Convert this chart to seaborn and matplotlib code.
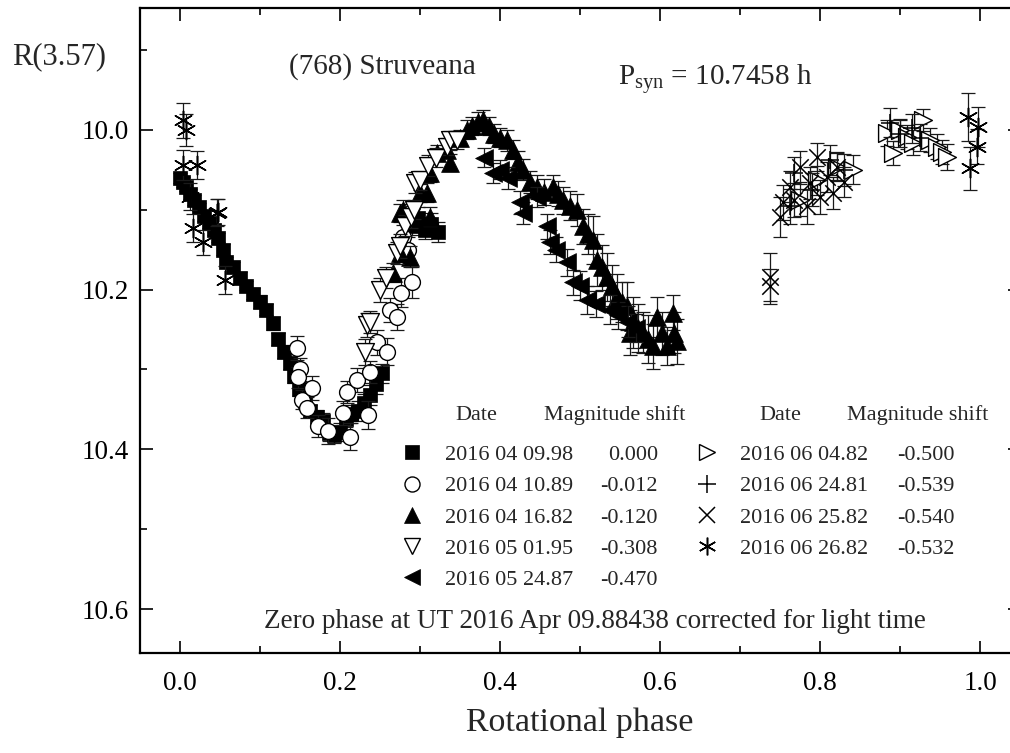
import matplotlib
matplotlib.use("Agg")
import numpy as np
import pandas as pd
import matplotlib.pyplot as plt
import seaborn as sns
from matplotlib.ticker import MultipleLocator, FormatStrFormatter

# --- data (phase, R magnitude, error) ---
dates = ["2016 04 09.98", "2016 04 10.89", "2016 04 16.82", "2016 05 01.95", "2016 05 24.87",
         "2016 06 04.82", "2016 06 24.81", "2016 06 25.82", "2016 06 26.82"]
shifts = ["0.000", "-0.012", "-0.120", "-0.308", "-0.470",
          "-0.500", "-0.539", "-0.540", "-0.532"]

sq_phase = [0.000, 0.004, 0.008, 0.013, 0.018, 0.024, 0.030, 0.036, 0.042, 0.048, 0.054, 0.058,
            0.066, 0.075, 0.083, 0.091, 0.100, 0.108, 0.116, 0.123, 0.130, 0.137, 0.143, 0.149,
            0.156, 0.163, 0.171, 0.179, 0.186, 0.193, 0.200, 0.207, 0.214, 0.222, 0.230, 0.237,
            0.245, 0.252, 0.290, 0.298, 0.306, 0.314, 0.322]
sq_mag = [10.060, 10.065, 10.072, 10.080, 10.088, 10.097, 10.108, 10.117, 10.125, 10.135, 10.150,
          10.165, 10.172, 10.185, 10.195, 10.205, 10.215, 10.225, 10.242, 10.262, 10.278, 10.292,
          10.308, 10.325, 10.340, 10.352, 10.360, 10.365, 10.380, 10.382, 10.378, 10.362, 10.356,
          10.352, 10.342, 10.332, 10.318, 10.305, 10.120, 10.110, 10.125, 10.118, 10.128]
sq_err = [0.006, 0.006, 0.005, 0.006, 0.006, 0.005, 0.006, 0.006, 0.007, 0.006, 0.007, 0.006,
          0.007, 0.007, 0.006, 0.007, 0.008, 0.007, 0.008, 0.007, 0.008, 0.008, 0.009, 0.008,
          0.009, 0.008, 0.009, 0.010, 0.009, 0.010, 0.011, 0.010, 0.011, 0.012, 0.011, 0.012,
          0.013, 0.012, 0.012, 0.013, 0.012, 0.014, 0.013]

ci_phase = [0.146, 0.150, 0.147, 0.153, 0.159, 0.165, 0.172, 0.185, 0.204, 0.209, 0.213, 0.221,
            0.235, 0.238, 0.246, 0.259, 0.263, 0.271, 0.276, 0.279, 0.285, 0.290]
ci_mag = [10.273, 10.300, 10.310, 10.338, 10.348, 10.323, 10.371, 10.377, 10.354, 10.328, 10.384,
          10.313, 10.357, 10.303, 10.266, 10.278, 10.225, 10.234, 10.204, 10.134, 10.150, 10.191]
ci_err = [0.015, 0.014, 0.013, 0.012, 0.013, 0.015, 0.014, 0.016, 0.015, 0.014, 0.017, 0.015,
          0.018, 0.014, 0.016, 0.017, 0.015, 0.016, 0.018, 0.015, 0.016, 0.019]

tu_phase = [0.266, 0.275, 0.275, 0.279, 0.288, 0.300, 0.309, 0.312, 0.313, 0.321, 0.334, 0.338,
            0.350, 0.359, 0.365, 0.372, 0.379, 0.386, 0.393, 0.400, 0.409, 0.416, 0.423, 0.429,
            0.437, 0.446, 0.455, 0.466, 0.472, 0.479, 0.488, 0.496, 0.504, 0.510, 0.516, 0.521,
            0.528, 0.534, 0.540, 0.546, 0.552, 0.559, 0.563, 0.566, 0.572, 0.579, 0.585, 0.591,
            0.596, 0.603, 0.609, 0.616, 0.617, 0.621]
tu_mag = [10.179, 10.154, 10.104, 10.100, 10.159, 10.079, 10.079, 10.054, 10.109, 10.029, 10.025,
          10.041, 10.010, 10.000, 9.995, 9.990, 9.988, 9.995, 10.005, 10.010, 10.013, 10.025,
          10.040, 10.050, 10.065, 10.071, 10.078, 10.071, 10.080, 10.088, 10.095, 10.100, 10.121,
          10.130, 10.138, 10.163, 10.172, 10.184, 10.195, 10.209, 10.215, 10.221, 10.254, 10.241,
          10.248, 10.254, 10.262, 10.271, 10.234, 10.255, 10.271, 10.229, 10.254, 10.265]
tu_err = [0.012, 0.012, 0.011, 0.012, 0.013, 0.011, 0.012, 0.011, 0.012, 0.010, 0.010, 0.011,
          0.010, 0.012, 0.011, 0.012, 0.013, 0.011, 0.012, 0.012, 0.013, 0.012, 0.014, 0.013,
          0.014, 0.015, 0.016, 0.015, 0.016, 0.017, 0.018, 0.020, 0.022, 0.025, 0.030, 0.032,
          0.028, 0.030, 0.026, 0.028, 0.025, 0.030, 0.028, 0.032, 0.030, 0.026, 0.030, 0.028,
          0.025, 0.027, 0.024, 0.022, 0.026, 0.028]

td_phase = [0.231, 0.234, 0.238, 0.250, 0.258, 0.271, 0.275, 0.281, 0.289, 0.292, 0.294, 0.300,
            0.310, 0.320, 0.334, 0.338, 0.346]
td_mag = [10.278, 10.244, 10.241, 10.200, 10.185, 10.154, 10.146, 10.120, 10.109, 10.100, 10.066,
          10.063, 10.045, 10.035, 10.021, 10.013, 10.013]
td_err = [0.016, 0.015, 0.014, 0.015, 0.013, 0.014, 0.015, 0.013, 0.014, 0.012, 0.013, 0.012,
          0.013, 0.012, 0.011, 0.012, 0.011]

tl_phase = [0.380, 0.391, 0.400, 0.410, 0.425, 0.429, 0.446, 0.459, 0.463, 0.470, 0.484, 0.491,
            0.500, 0.509, 0.520, 0.538, 0.548, 0.560, 0.570]
tl_mag = [10.035, 10.054, 10.050, 10.060, 10.091, 10.104, 10.084, 10.121, 10.141, 10.150, 10.166,
          10.191, 10.195, 10.213, 10.218, 10.225, 10.232, 10.240, 10.248]
tl_err = [0.012, 0.013, 0.012, 0.014, 0.015, 0.014, 0.013, 0.016, 0.015, 0.016, 0.017, 0.016,
          0.018, 0.017, 0.016, 0.018, 0.017, 0.019, 0.018]

tr_phase = [0.775, 0.796, 0.821, 0.841, 0.884, 0.891, 0.900, 0.909, 0.916, 0.929, 0.938, 0.946,
            0.952, 0.959]
tr_mag = [10.088, 10.063, 10.046, 10.050, 10.004, 10.029, 10.000, 10.009, 10.016, 9.988, 10.013,
          10.021, 10.028, 10.034]
tr_err = [0.020, 0.018, 0.017, 0.018, 0.016, 0.015, 0.014, 0.015, 0.016, 0.014, 0.015, 0.016,
          0.015, 0.016]

pl_phase = [0.763, 0.767, 0.790, 0.813, 0.830, 0.888, 0.900, 0.915, 0.925]
pl_mag = [10.096, 10.054, 10.075, 10.038, 10.050, 9.991, 10.005, 9.998, 10.010]
pl_err = [0.022, 0.020, 0.021, 0.019, 0.020, 0.018, 0.017, 0.018, 0.017]

xc_phase = [0.738, 0.738, 0.750, 0.754, 0.763, 0.767, 0.775, 0.784, 0.788, 0.796, 0.800, 0.809,
            0.816, 0.821, 0.830]
xc_mag = [10.184, 10.196, 10.109, 10.091, 10.071, 10.088, 10.046, 10.096, 10.066, 10.034, 10.084,
          10.059, 10.079, 10.046, 10.065]
xc_err = [0.030, 0.022, 0.025, 0.022, 0.020, 0.021, 0.019, 0.022, 0.020, 0.018, 0.021, 0.019,
          0.020, 0.018, 0.019]

st_phase = [0.004, 0.008, 0.004, 0.021, 0.013, 0.016, 0.029, 0.046, 0.048, 0.056, 0.985, 0.998,
            0.996, 0.988]
st_mag = [9.988, 10.000, 10.044, 10.044, 10.084, 10.123, 10.141, 10.104, 10.103, 10.188, 9.984,
          9.996, 10.021, 10.048]
st_err = [0.022, 0.020, 0.019, 0.018, 0.017, 0.018, 0.016, 0.017, 0.016, 0.018, 0.030, 0.025,
          0.022, 0.027]

# --- style ---
sns.set_style("ticks")
plt.rcParams['font.family'] = ['Liberation Serif', 'DejaVu Serif']
plt.rcParams['mathtext.fontset'] = 'custom'
plt.rcParams['mathtext.rm'] = 'Liberation Serif'
plt.rcParams['mathtext.it'] = 'Liberation Serif:italic'

filled = dict(color='black', edgecolor='black', linewidth=0.5)
hollow = dict(color='black', facecolor='white', edgecolor='black', linewidth=1.0)
lineart = dict(color='black', linewidth=1.1)

series = [
    (sq_phase, sq_mag, sq_err, dict(marker='s', s=110, **filled)),
    (ci_phase, ci_mag, ci_err, dict(marker='o', s=130, **hollow)),
    (tu_phase, tu_mag, tu_err, dict(marker='^', s=165, **filled)),
    (td_phase, td_mag, td_err, dict(marker='v', s=165, **hollow)),
    (tl_phase, tl_mag, tl_err, dict(marker='<', s=165, **filled)),
    (tr_phase, tr_mag, tr_err, dict(marker='>', s=165, **hollow)),
    (pl_phase, pl_mag, pl_err, dict(marker='+', s=180, **lineart)),
    (xc_phase, xc_mag, xc_err, dict(marker='x', s=140, **lineart)),
    (st_phase, st_mag, st_err, dict(marker=(6, 2, 0), s=180, **lineart)),
]

fig = plt.figure(figsize=(10.1, 7.53), dpi=100)
ax = fig.add_axes([140 / 1010, 100 / 753, 880 / 1010, 645 / 753])

for i, (ph, mg, er, style) in enumerate(series):
    df = pd.DataFrame({'phase': ph, 'mag': mg, 'err': er})
    ax.errorbar(df['phase'], df['mag'], yerr=df['err'], fmt='none', ecolor='#1a1a1a',
                elinewidth=0.9, capsize=5, capthick=0.9, zorder=2 + i)
    sns.scatterplot(data=df, x='phase', y='mag', ax=ax, legend=False, zorder=2.5 + i, **style)

ax.set_xlim(-0.05, 1.05)
ax.set_ylim(10.655, 9.8475)
ax.set_xticks([0.0, 0.2, 0.4, 0.6, 0.8, 1.0])
ax.set_yticks([10.0, 10.2, 10.4, 10.6])
ax.xaxis.set_minor_locator(MultipleLocator(0.1))
ax.yaxis.set_minor_locator(MultipleLocator(0.1))
ax.xaxis.set_major_formatter(FormatStrFormatter('%.1f'))
ax.yaxis.set_major_formatter(FormatStrFormatter('%.1f'))
ax.tick_params(which='both', direction='in', top=True, right=True, width=1.2, colors='black')
ax.tick_params(which='major', length=9, labelsize=19.5)
ax.tick_params(which='minor', length=5)
ax.tick_params(axis='x', which='major', pad=13)
ax.tick_params(axis='y', which='major', pad=8)
for sp in ax.spines.values():
    sp.set_linewidth(1.6)
    sp.set_color('black')

ax.set_xlabel('Rotational phase', fontsize=24.5, labelpad=8)
ax.set_ylabel('')
fig.text(12 / 1010, 1 - 57 / 753, 'R(3.57)', fontsize=22, ha='left', va='center')

ax.text(0.275, 0.8977, '(768) Struveana', transform=ax.transAxes, fontsize=21,
        ha='center', va='baseline')
ax.text(0.543, 0.8806, r'P$_{\mathrm{syn}}$ = 10.7458 h', transform=ax.transAxes, fontsize=21,
        ha='left', va='baseline')

# --- hand-made legend table ---
leg_fs = 16
ax.text(0.3818, 0.3612, 'Date', transform=ax.transAxes, fontsize=leg_fs, ha='center', va='baseline')
ax.text(0.5398, 0.3612, 'Magnitude shift', transform=ax.transAxes, fontsize=leg_fs, ha='center', va='baseline')
ax.text(0.7273, 0.3612, 'Date', transform=ax.transAxes, fontsize=leg_fs, ha='center', va='baseline')
ax.text(0.8841, 0.3612, 'Magnitude shift', transform=ax.transAxes, fontsize=leg_fs, ha='center', va='baseline')

cols = [(0.309, 0.3466, 0.5886), (0.6443, 0.6818, 0.9261)]
row0, step = 0.2992, 0.04845
for k, (date, shift, (ph, mg, er, style)) in enumerate(zip(dates, shifts, series)):
    c = 0 if k < 5 else 1
    r = k if k < 5 else k - 5
    xm, xd, xs = cols[c]
    yb = row0 - r * step
    ym = yb + 0.012
    mk = style['marker']
    face = style.get('facecolor', 'black')
    open_mk = face == 'white' or mk in ('+', 'x') or isinstance(mk, tuple)
    ax.plot([xm], [ym], transform=ax.transAxes, linestyle='none', marker=mk,
            markersize=np.sqrt(style['s']) * 0.95, markerfacecolor=face,
            markeredgecolor='black', markeredgewidth=style['linewidth'] if open_mk else 0.5,
            clip_on=False, zorder=20)
    ax.text(xd, yb, date, transform=ax.transAxes, fontsize=leg_fs, ha='left', va='baseline')
    ax.text(xs, yb, shift, transform=ax.transAxes, fontsize=leg_fs, ha='right', va='baseline')

ax.text(0.517, 0.0388, 'Zero phase at UT 2016 Apr 09.88438 corrected for light time',
        transform=ax.transAxes, fontsize=19.5, ha='center', va='baseline')

fig.savefig('out.png', dpi=100)
